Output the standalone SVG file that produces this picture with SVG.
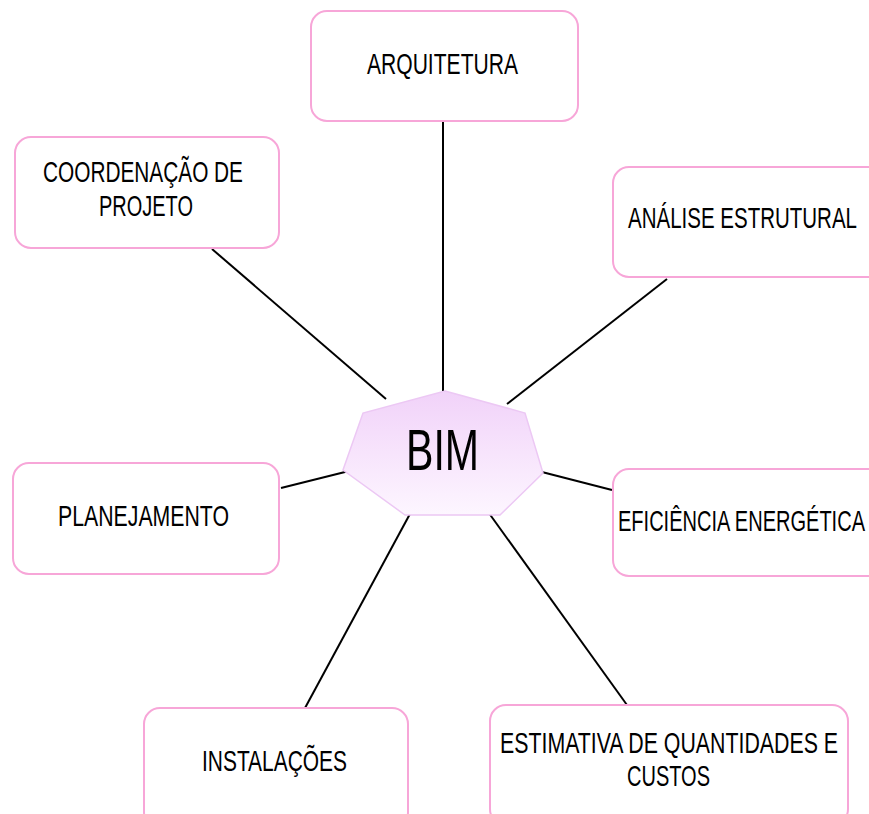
<svg xmlns="http://www.w3.org/2000/svg" width="869" height="814" viewBox="0 0 869 814">
  <defs>
    <linearGradient id="hub" x1="0" y1="0" x2="0" y2="1">
      <stop offset="0" stop-color="#f1d2f9"/>
      <stop offset="1" stop-color="#fdf6ff"/>
    </linearGradient>
    <style>
      .box { fill: #ffffff; stroke: #f7a6d8; stroke-width: 2; }
      .lbl { font-family: "Liberation Sans Narrow", "Liberation Sans", Arial, sans-serif; font-size: 29px; fill: #000000; }
      .conn line { stroke: #000000; stroke-width: 2; }
    </style>
  </defs>
  <rect width="869" height="814" fill="#ffffff"/>

  <g id="connectors" class="conn">
    <line x1="443" y1="121" x2="443" y2="391"/>
    <line x1="212" y1="249" x2="386" y2="399"/>
    <line x1="667" y1="279" x2="507" y2="404"/>
    <line x1="281" y1="488" x2="349" y2="471"/>
    <line x1="538" y1="471" x2="612" y2="490"/>
    <line x1="411" y1="512" x2="305" y2="708"/>
    <line x1="486" y1="509" x2="627" y2="705"/>
  </g>

  <g id="bim">
    <polygon points="445,391 525,413 543,473 500,515 405,515 343,470 363,413" fill="url(#hub)" stroke="#ecc8f4" stroke-width="1.5"/>
    <text class="lbl" x="406" y="470" style="font-size:58px" textLength="73" lengthAdjust="spacingAndGlyphs">BIM</text>
  </g>

  <g id="arquitetura">
    <rect class="box" x="311" y="11" width="267" height="110" rx="16"/>
    <text class="lbl" x="367" y="74" textLength="151" lengthAdjust="spacingAndGlyphs">ARQUITETURA</text>
  </g>

  <g id="analise-estrutural">
    <rect class="box" x="613" y="167" width="270" height="110" rx="16"/>
    <text class="lbl" x="628" y="228" textLength="229" lengthAdjust="spacingAndGlyphs">ANÁLISE ESTRUTURAL</text>
  </g>

  <g id="coordenacao">
    <rect class="box" x="15" y="137" width="264" height="111" rx="16"/>
    <text class="lbl" x="43" y="182" textLength="200" lengthAdjust="spacingAndGlyphs">COORDENAÇÃO DE</text>
    <text class="lbl" x="99" y="216" textLength="94" lengthAdjust="spacingAndGlyphs">PROJETO</text>
  </g>

  <g id="planejamento">
    <rect class="box" x="13" y="463" width="266" height="111" rx="16"/>
    <text class="lbl" x="58" y="526" textLength="171" lengthAdjust="spacingAndGlyphs">PLANEJAMENTO</text>
  </g>

  <g id="eficiencia">
    <rect class="box" x="613" y="469" width="270" height="107" rx="16"/>
    <text class="lbl" x="618" y="531" textLength="247" lengthAdjust="spacingAndGlyphs">EFICIÊNCIA ENERGÉTICA</text>
  </g>

  <g id="instalacoes">
    <rect class="box" x="144" y="708" width="264" height="120" rx="16"/>
    <text class="lbl" x="202" y="771" textLength="145" lengthAdjust="spacingAndGlyphs">INSTALAÇÕES</text>
  </g>

  <g id="estimativa">
    <rect class="box" x="490" y="705" width="358" height="120" rx="16"/>
    <text class="lbl" x="500" y="753" textLength="338" lengthAdjust="spacingAndGlyphs">ESTIMATIVA DE QUANTIDADES E</text>
    <text class="lbl" x="627" y="786" textLength="83" lengthAdjust="spacingAndGlyphs">CUSTOS</text>
  </g>
</svg>
